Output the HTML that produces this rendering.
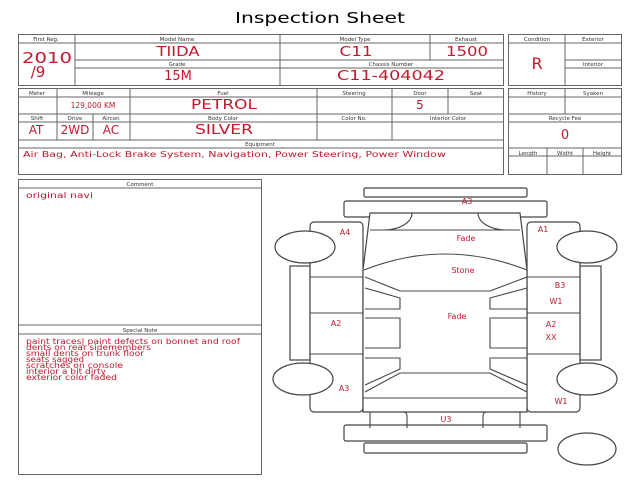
<!DOCTYPE html>
<html><head><meta charset="utf-8"><style>
html,body{margin:0;padding:0;background:#fff;width:640px;height:480px;overflow:hidden}
svg{display:block}
.l{font-family:"DejaVu Sans",sans-serif;font-size:5.5px;fill:#333;text-anchor:middle}
.v{font-family:"DejaVu Sans",sans-serif;fill:#c0192e;text-anchor:middle}
.t{font-family:"DejaVu Sans",sans-serif;fill:#c0192e;font-size:7.6px}
</style></head><body>
<svg width="640" height="480" viewBox="0 0 640 480" xmlns="http://www.w3.org/2000/svg">
<text x="235" y="23" font-family="DejaVu Sans,sans-serif" font-size="15" textLength="170" lengthAdjust="spacingAndGlyphs" fill="#000">Inspection Sheet</text>
<g fill="none" stroke="#666" stroke-width="1">
<rect x="18.5" y="34.5" width="485" height="51"/>
<line x1="75" y1="34" x2="75" y2="86"/><line x1="280" y1="34" x2="280" y2="86"/><line x1="430" y1="34" x2="430" y2="60"/>
<line x1="75" y1="43" x2="503" y2="43"/><line x1="75" y1="60" x2="503" y2="60"/><line x1="75" y1="68" x2="503" y2="68"/>
<line x1="18" y1="43" x2="75" y2="43"/>
<rect x="508.5" y="34.5" width="113" height="51"/>
<line x1="565" y1="34" x2="565" y2="86"/><line x1="508" y1="43" x2="622" y2="43"/><line x1="565" y1="60" x2="622" y2="60"/><line x1="565" y1="68" x2="622" y2="68"/>
<rect x="18.5" y="88.5" width="485" height="86"/>
<line x1="18" y1="97" x2="503" y2="97"/><line x1="18" y1="114" x2="503" y2="114"/><line x1="18" y1="122" x2="503" y2="122"/><line x1="18" y1="140" x2="503" y2="140"/><line x1="18" y1="148" x2="503" y2="148"/>
<line x1="57" y1="88" x2="57" y2="140"/><line x1="130" y1="88" x2="130" y2="140"/><line x1="317" y1="88" x2="317" y2="140"/><line x1="392" y1="88" x2="392" y2="140"/><line x1="448" y1="88" x2="448" y2="114"/><line x1="93" y1="114" x2="93" y2="140"/>
<rect x="508.5" y="88.5" width="113" height="86"/>
<line x1="565" y1="88" x2="565" y2="114"/><line x1="508" y1="97" x2="622" y2="97"/><line x1="508" y1="114" x2="622" y2="114"/><line x1="508" y1="122" x2="622" y2="122"/><line x1="508" y1="148" x2="622" y2="148"/><line x1="508" y1="156" x2="622" y2="156"/>
<line x1="547" y1="148" x2="547" y2="174"/><line x1="583" y1="148" x2="583" y2="174"/>
<rect x="18.5" y="179.5" width="243" height="295"/>
<line x1="18" y1="188" x2="262" y2="188"/><line x1="18" y1="325" x2="262" y2="325"/><line x1="18" y1="334" x2="262" y2="334"/>
</g>
<g class="l">
<text x="46" y="41">First Reg.</text><text x="177" y="41">Model Name</text><text x="355" y="41">Model Type</text><text x="466" y="41">Exhaust</text>
<text x="177" y="66">Grade</text><text x="391" y="66">Chassis Number</text>
<text x="537" y="41">Condition</text><text x="593" y="41">Exterior</text><text x="593" y="66">Interior</text>
<text x="37" y="95">Meter</text><text x="93" y="95">Mileage</text><text x="223" y="95">Fuel</text><text x="354" y="95">Steering</text><text x="420" y="95">Door</text><text x="476" y="95">Seat</text>
<text x="37" y="120">Shift</text><text x="75" y="120">Drive</text><text x="111" y="120">Aircon</text><text x="223" y="120">Body Color</text><text x="354" y="120">Color No.</text><text x="448" y="120">Interior Color</text>
<text x="260" y="146">Equipment</text>
<text x="537" y="95">History</text><text x="593" y="95">Syaken</text><text x="565" y="120">Recycle Fee</text>
<text x="528" y="155">Length</text><text x="565" y="155">Widht</text><text x="602" y="155">Height</text>
<text x="140" y="186">Comment</text><text x="140" y="332">Special Note</text>
</g>
<g class="v">
<text x="47" y="63" font-size="15" textLength="50" lengthAdjust="spacingAndGlyphs">2010</text><text x="38" y="77" font-size="15">/9</text>
<text x="178" y="56" font-size="13" textLength="43" lengthAdjust="spacingAndGlyphs">TIIDA</text><text x="178" y="80" font-size="13">15M</text>
<text x="356" y="56" font-size="13" textLength="33" lengthAdjust="spacingAndGlyphs">C11</text><text x="467" y="56" font-size="13" textLength="42" lengthAdjust="spacingAndGlyphs">1500</text>
<text x="391" y="80" font-size="13" textLength="108" lengthAdjust="spacingAndGlyphs">C11-404042</text>
<text x="537" y="69" font-size="16">R</text>
<text x="93" y="108" font-size="7.5">129,000 KM</text><text x="224" y="109" font-size="13" textLength="66" lengthAdjust="spacingAndGlyphs">PETROL</text><text x="420" y="109" font-size="12">5</text>
<text x="36" y="134" font-size="12">AT</text><text x="75" y="134" font-size="12">2WD</text><text x="111" y="134" font-size="12">AC</text><text x="224" y="134" font-size="13" textLength="58" lengthAdjust="spacingAndGlyphs">SILVER</text>
<text x="565" y="139" font-size="13">0</text>
</g>
<text class="t" x="23" y="157" font-size="9.4" textLength="423" lengthAdjust="spacingAndGlyphs">Air Bag, Anti-Lock Brake System, Navigation, Power Steering, Power Window</text>
<text class="t" x="26" y="198" font-size="8.5" textLength="67" lengthAdjust="spacingAndGlyphs">original navi</text>
<g class="t"><text x="26" y="344" textLength="214" lengthAdjust="spacingAndGlyphs">paint traces| paint defects on bonnet and roof</text><text x="26" y="350" textLength="125" lengthAdjust="spacingAndGlyphs">dents on rear sidemembers</text><text x="26" y="356" textLength="118" lengthAdjust="spacingAndGlyphs">small dents on trunk floor</text><text x="26" y="362" textLength="58" lengthAdjust="spacingAndGlyphs">seats sagged</text><text x="26" y="368" textLength="97" lengthAdjust="spacingAndGlyphs">scratches on console</text><text x="26" y="374" textLength="80" lengthAdjust="spacingAndGlyphs">interior a bit dirty</text><text x="26" y="380" textLength="91" lengthAdjust="spacingAndGlyphs">exterior color faded</text></g>
<g fill="#fff" stroke="#444" stroke-width="1.2">
<rect x="364" y="188" width="163" height="9" rx="1.5"/>
<rect x="344" y="201" width="203" height="16" rx="2"/>
<rect x="290" y="266" width="20" height="94"/><rect x="580" y="266" width="21" height="94"/>
<rect x="310" y="222" width="53" height="190" rx="4"/><rect x="527" y="222" width="53" height="190" rx="4"/>
<path d="M370 213 L520 213 L527 270 L527 412 L363 412 L363 270 Z"/>
<rect x="344" y="425" width="203" height="16" rx="2"/>
<rect x="364" y="443" width="163" height="10" rx="1.5"/>
<ellipse cx="305" cy="247" rx="30" ry="16"/><ellipse cx="587" cy="247" rx="30" ry="16"/>
<ellipse cx="303" cy="379" rx="30" ry="16"/><ellipse cx="587" cy="379" rx="30" ry="16"/>
<ellipse cx="587" cy="449" rx="29" ry="16"/>
</g>
<g fill="none" stroke="#444" stroke-width="1.1">
<line x1="370" y1="230" x2="520" y2="230"/>
<path d="M412 213 A28 17 0 0 1 384 230"/><path d="M478 213 A28 17 0 0 0 506 230"/>
<path d="M364 270 Q445 238 527 270"/>
<path d="M365 277 L400 291 L490 291 L527 277"/>
<path d="M365 288 L400 298 L400 309 L365 309"/><path d="M527 288 L490 298 L490 309 L527 309"/>
<path d="M365 318 L400 318 L400 348 L365 348"/><path d="M527 318 L490 318 L490 348 L527 348"/>
<path d="M365 358 L400 358 L400 369 L365 385"/><path d="M527 358 L490 358 L490 369 L527 385"/>
<path d="M365 392 L400 373 L490 373 L527 392"/>
<line x1="363" y1="398" x2="527" y2="398"/>
<path d="M370 412 L370 428 M407 428 L407 416 Q407 412 403 412"/><path d="M520 412 L520 428 M483 428 L483 416 Q483 412 487 412"/>
<line x1="310" y1="277" x2="363" y2="277"/><line x1="310" y1="313" x2="363" y2="313"/><line x1="310" y1="354" x2="363" y2="354"/>
<line x1="527" y1="277" x2="580" y2="277"/><line x1="527" y1="313" x2="580" y2="313"/><line x1="527" y1="354" x2="580" y2="354"/>
</g>
<g class="v" font-size="8">
<text x="467" y="204">A3</text><text x="345" y="235">A4</text><text x="466" y="241">Fade</text><text x="543" y="232">A1</text>
<text x="463" y="273">Stone</text><text x="560" y="288">B3</text><text x="556" y="304">W1</text><text x="457" y="319">Fade</text>
<text x="336" y="326">A2</text><text x="551" y="327">A2</text><text x="551" y="340">XX</text><text x="344" y="391">A3</text>
<text x="561" y="404">W1</text><text x="446" y="422">U3</text>
</g>
</svg>
</body></html>
